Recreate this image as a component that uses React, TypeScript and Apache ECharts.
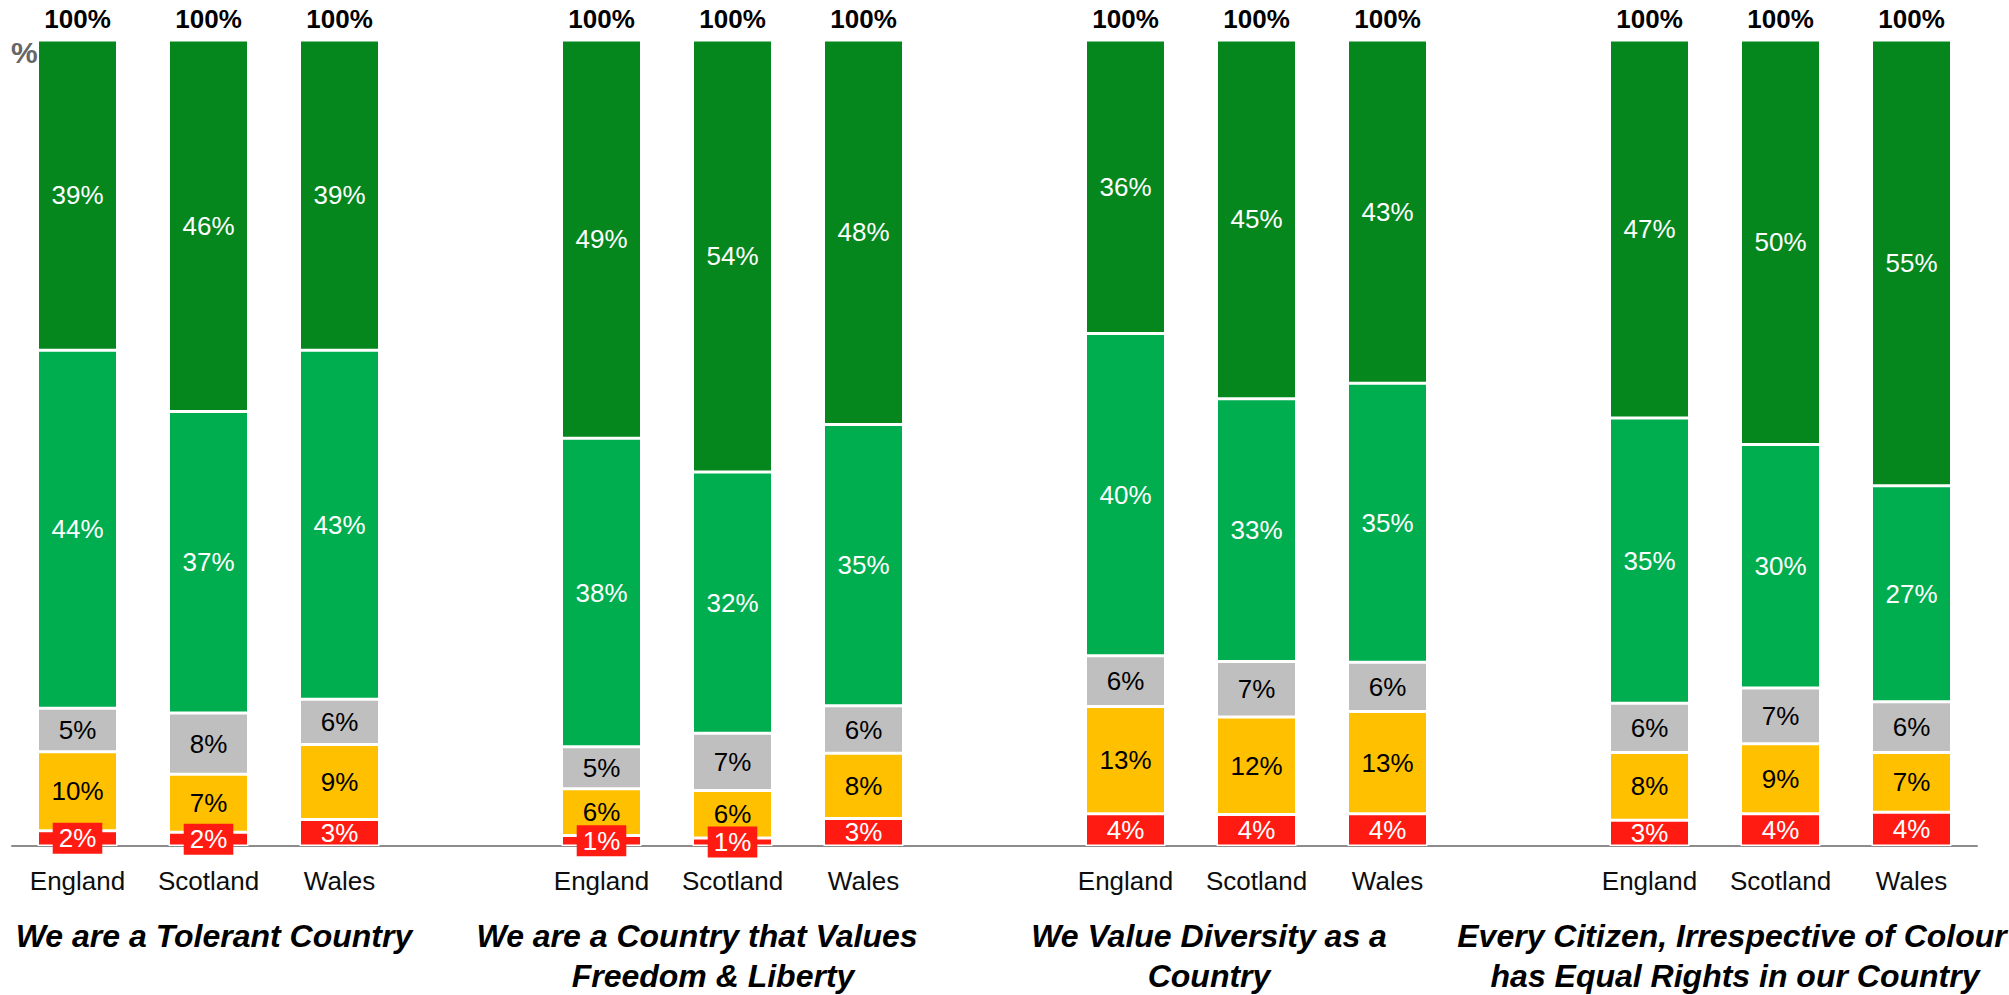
import React, { useEffect, useRef } from "react";
import * as echarts from "echarts";

const regions = ["England", "Scotland", "Wales"];
const statements = [
  "We are a Tolerant Country",
  "We are a Country that Values\nFreedom & Liberty",
  "We Value Diversity as a\nCountry",
  "Every Citizen, Irrespective of Colour\nhas Equal Rights in our Country",
];
// values per bar: 4 statements x (England, Scotland, Wales)
const stronglyDisagree = [1.9, 1.7, 3.3, 1.3, 1.0, 3.4, 4.0, 3.9, 4.0, 3.2, 4.0, 4.2];
const disagree = [9.8, 7.2, 9.3, 5.8, 5.9, 8.1, 13.3, 12.1, 12.7, 8.4, 8.7, 7.4];
const neutral = [5.4, 7.6, 5.6, 5.2, 7.1, 5.9, 6.3, 6.9, 6.1, 6.1, 6.9, 6.3];
const agree = [44.4, 37.4, 43.3, 38.3, 32.4, 34.9, 40.0, 32.6, 34.6, 35.4, 30.2, 26.8];
const stronglyAgree = [38.5, 46.1, 38.5, 49.4, 53.6, 47.7, 36.4, 44.5, 42.6, 46.9, 50.2, 55.3];

const FONT = "Arial, 'Liberation Sans', sans-serif";

// horizontal centre of each title line (layout only)
const titleLineX = [[214], [697, 713], [1209, 1209], [1732, 1735]];
const titleLineY = [936, 976];

export default function App() {
  const ref = useRef<HTMLDivElement>(null);

  useEffect(() => {
    if (!ref.current) return;
    const chart = echarts.init(ref.current, null, { renderer: "svg" });

    // Build category axis with blank spacer slots between statement groups
    const categories: string[] = [];
    const slotIndex: number[] = [];
    statements.forEach((_, g) => {
      regions.forEach((r) => {
        slotIndex.push(categories.length);
        categories.push(r);
      });
      if (g < statements.length - 1) categories.push("");
    });

    const spread = (vals: any[]) => {
      const out: any[] = categories.map(() => "-");
      vals.forEach((v, i) => (out[slotIndex[i]] = v));
      return out;
    };

    const totals = stronglyDisagree.map(
      (_, i) => stronglyDisagree[i] + disagree[i] + neutral[i] + agree[i] + stronglyAgree[i]
    );

    const segFmt = (p: any) => {
      const v = typeof p.value === "number" ? p.value : p.value?.value;
      return v == null || v === "-" ? "" : Math.round(v) + "%";
    };

    const mkSeries = (name: string, vals: any[], color: string, labelColor: string, z = 2) => ({
      name,
      type: "bar",
      stack: "total",
      barWidth: 80,
      z,
      data: spread(vals),
      itemStyle: { color, borderColor: "#ffffff", borderWidth: 1.5 },
      label: {
        show: true,
        position: "inside",
        color: labelColor,
        fontSize: 26,
        fontFamily: FONT,
        formatter: segFmt,
      },
    });

    const redData = stronglyDisagree.map((v) =>
      v < 2.5
        ? { value: v, label: { backgroundColor: "#FF1A12", padding: [3, 6, 2, 6] } }
        : v
    );

    const titleGraphics: any[] = [];
    statements.forEach((t, i) => {
      t.split("\n").forEach((line, j) => {
        titleGraphics.push({
          type: "text",
          x: titleLineX[i][j],
          y: titleLineY[j],
          style: {
            text: line,
            fill: "#000000",
            font: `italic bold 32px ${FONT}`,
            textAlign: "center",
            textVerticalAlign: "middle",
          },
        });
      });
    });

    const option: any = {
      animation: false,
      backgroundColor: "#ffffff",
      grid: { left: 12, right: 32, top: 40, bottom: 149, containLabel: false },
      xAxis: {
        type: "category",
        data: categories,
        axisTick: { show: false },
        axisLine: { show: true, lineStyle: { color: "#8c8c8c", width: 2 } },
        axisLabel: {
          interval: 0,
          margin: 22,
          fontSize: 26,
          fontFamily: FONT,
          color: "#0d0d0d",
        },
      },
      yAxis: {
        type: "value",
        min: 0,
        max: 100,
        show: false,
        splitLine: { show: false },
      },
      series: [
        mkSeries("Strongly disagree", redData, "#FF1A12", "#ffffff", 3),
        mkSeries("Disagree", disagree, "#FFC000", "#000000"),
        mkSeries("Neither", neutral, "#BFBFBF", "#000000"),
        mkSeries("Agree", agree, "#00AE50", "#ffffff"),
        mkSeries("Strongly agree", stronglyAgree, "#05871E", "#ffffff"),
        {
          name: "Total",
          type: "bar",
          stack: "total",
          barWidth: 80,
          data: spread(totals.map(() => 0)),
          itemStyle: { color: "transparent" },
          label: {
            show: true,
            position: "top",
            distance: 8,
            fontSize: 26,
            fontWeight: "bold",
            fontFamily: FONT,
            color: "#000000",
            formatter: (p: any) => {
              const k = slotIndex.indexOf(p.dataIndex);
              return k < 0 ? "" : Math.round(totals[k]) + "%";
            },
          },
        },
      ],
      graphic: [
        {
          type: "text",
          x: 11,
          y: 37,
          z: 10,
          style: {
            text: "%",
            fill: "#666666",
            font: `bold 30px ${FONT}`,
            textAlign: "left",
            textVerticalAlign: "top",
          },
        },
        ...titleGraphics,
      ],
    };

    chart.setOption(option);
    return () => chart.dispose();
  }, []);

  return (
    <div
      ref={ref}
      style={{ position: "fixed", left: 0, top: 0, width: 2009, height: 995, background: "#fff" }}
    />
  );
}
